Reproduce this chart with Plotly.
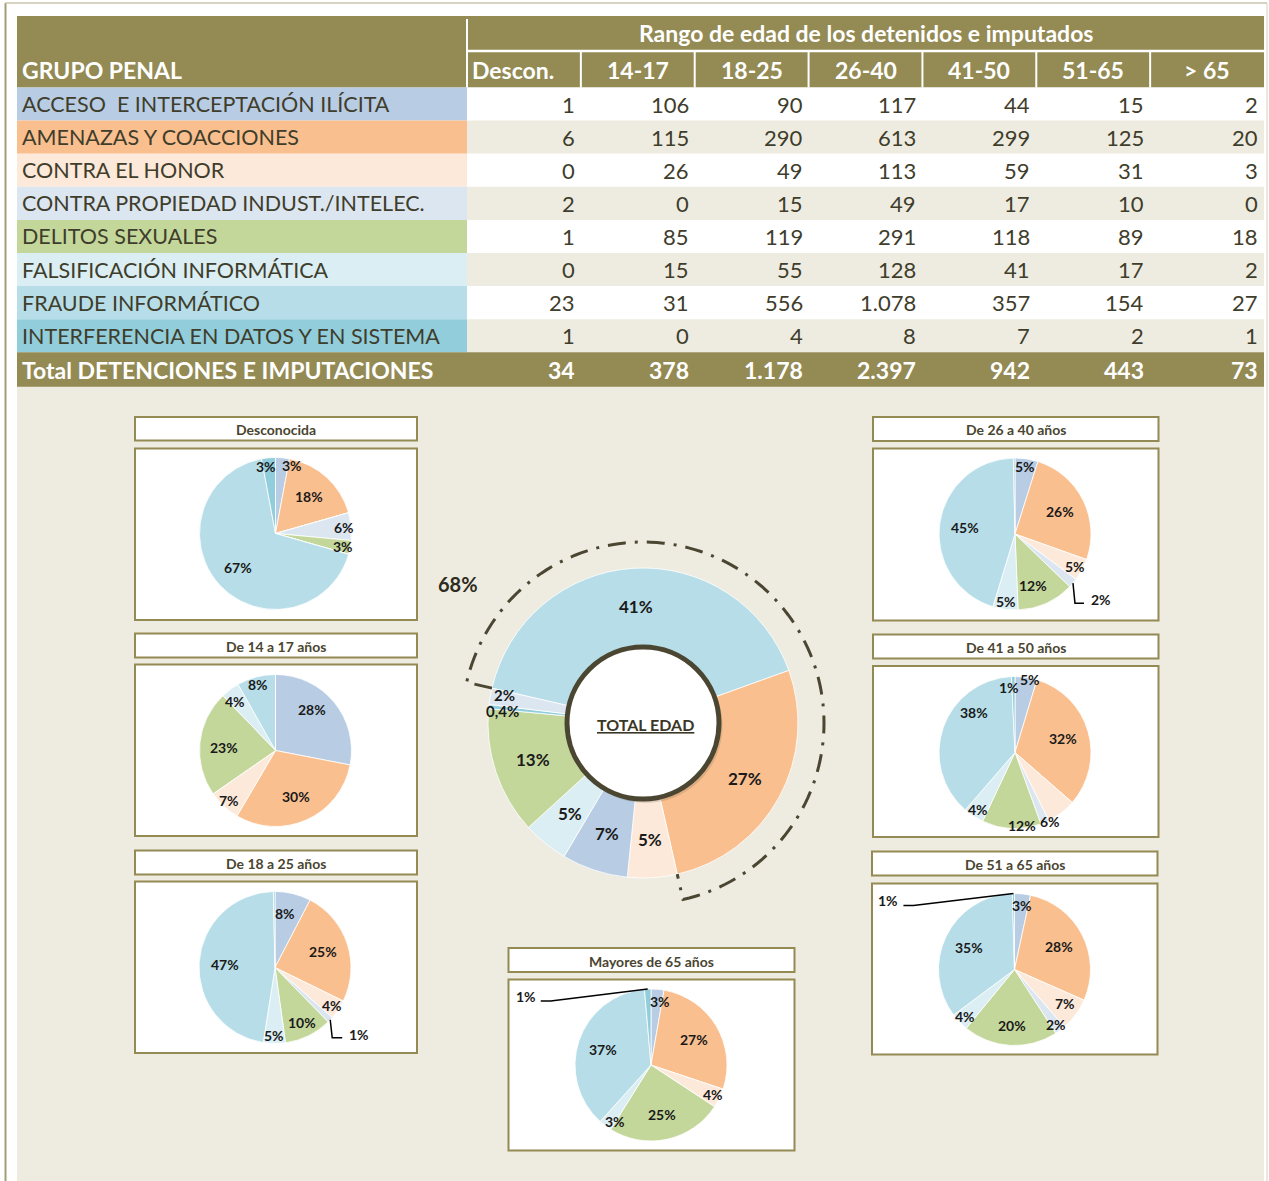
import math
import plotly.graph_objects as go

W, H = 1269, 1181

# ---------------- DATA ----------------
categorias = [
    "ACCESO  E INTERCEPTACIÓN ILÍCITA",
    "AMENAZAS Y COACCIONES",
    "CONTRA EL HONOR",
    "CONTRA PROPIEDAD INDUST./INTELEC.",
    "DELITOS SEXUALES",
    "FALSIFICACIÓN INFORMÁTICA",
    "FRAUDE INFORMÁTICO",
    "INTERFERENCIA EN DATOS Y EN SISTEMA",
]
colores = ["#B8CCE4", "#FABF8F", "#FDE9D9", "#DCE6F1",
           "#C4D79B", "#DAEEF3", "#B7DEE8", "#92CDDC"]
columnas = ["Descon.", "14-17", "18-25", "26-40", "41-50", "51-65", "> 65"]

descon = [1, 6, 0, 2, 1, 0, 23, 1]
edad_14_17 = [106, 115, 26, 0, 85, 15, 31, 0]
edad_18_25 = [90, 290, 49, 15, 119, 55, 556, 4]
edad_26_40 = [117, 613, 113, 49, 291, 128, 1078, 8]
edad_41_50 = [44, 299, 59, 17, 118, 41, 357, 7]
edad_51_65 = [15, 125, 31, 10, 89, 17, 154, 2]
edad_mas_65 = [2, 20, 3, 0, 18, 2, 27, 1]

# percentage labels as printed in each pie (category order)
etq_descon = ["3%", "18%", "", "6%", "3%", "", "67%", "3%"]
etq_14_17 = ["28%", "30%", "7%", "", "23%", "4%", "8%", ""]
etq_18_25 = ["8%", "25%", "4%", "1%", "10%", "5%", "47%", ""]
etq_26_40 = ["5%", "26%", "5%", "2%", "12%", "5%", "45%", ""]
etq_41_50 = ["5%", "32%", "6%", "", "12%", "4%", "38%", "1%"]
etq_51_65 = ["3%", "28%", "7%", "2%", "20%", "4%", "35%", "1%"]
etq_mas_65 = ["3%", "27%", "4%", "", "25%", "3%", "37%", "1%"]

titulos = ["Desconocida", "De 14 a 17 años", "De 18 a 25 años", "De 26 a 40 años",
           "De 41 a 50 años", "De 51 a 65 años", "Mayores de 65 años"]

# order of slices in the total donut (indices into categorias)
orden_total = [6, 1, 2, 0, 5, 4, 7, 3]

series = [descon, edad_14_17, edad_18_25, edad_26_40, edad_41_50, edad_51_65, edad_mas_65]
etiquetas = [etq_descon, etq_14_17, etq_18_25, etq_26_40, etq_41_50, etq_51_65, etq_mas_65]

# ---------------- STYLE ----------------
OLIVA = "#948A54"
BEIGE = "#EEECE1"
TXT = "#3F3D2B"
TIT = "#4A4530"
LBL = "#1A1A1A"
FONT = "Lato"


def X(x):
    return x / W


def Y(y):
    return 1 - y / H


def fmt(v):
    return f"{v:,}".replace(",", ".")


shapes = []
annotations = []


def rect(x0, y0, x1, y1, fill, line=None, lw=0, layer="below"):
    shapes.append(dict(type="rect", xref="paper", yref="paper",
                       x0=X(x0), x1=X(x1), y0=Y(y1), y1=Y(y0),
                       fillcolor=fill, layer=layer,
                       line=dict(width=lw, color=line if line else fill)))


def seg(x0, y0, x1, y1, color, w, layer="below"):
    shapes.append(dict(type="line", xref="paper", yref="paper",
                       x0=X(x0), x1=X(x1), y0=Y(y0), y1=Y(y1), layer=layer,
                       line=dict(color=color, width=w)))


def text(x, y, s, size, color, bold=False, xanchor="center", yanchor="middle"):
    annotations.append(dict(
        x=X(x), y=Y(y), xref="paper", yref="paper", showarrow=False,
        text=f"<b>{s}</b>" if bold else s, xanchor=xanchor, yanchor=yanchor,
        font=dict(family=FONT, size=size, color=color)))


# ---------------- FRAME / BACKGROUND ----------------
rect(17, 385, 1264, 1181, BEIGE)
seg(5.5, 3, 5.5, 1181, "#A39D75", 2)
seg(5, 3, 1267, 3, "#C9C5AC", 1.5)
seg(1267, 3, 1267, 1181, "#D3D0BE", 1)

# ---------------- TABLE ----------------
tx0, tlab, tx1 = 17, 467, 1264
col_w = (tx1 - tlab) / len(columnas)
hy0, hmid, hy1 = 16, 51, 87.5
row_h = 33.1
HDR = 23

rect(tx0, hy0, tx1, hy1, OLIVA)
seg(tlab, 19, tlab, hy1, "white", 2)
seg(tlab, hmid, tx1, hmid, "white", 2.5)
for j in range(1, len(columnas)):
    xb = tlab + j * col_w
    seg(xb, hmid + 1, xb, hy1, "white", 2)

text(20, 70, "GRUPO PENAL", HDR, "white", bold=True, xanchor="left")
text((tlab + tx1) / 2, 33, "Rango de edad de los detenidos e imputados", HDR, "white", bold=True)
for j, c in enumerate(columnas):
    if j == 0:
        text(tlab + 3, 70, c, HDR, "white", bold=True, xanchor="left")
    else:
        text(tlab + (j + 0.5) * col_w, 70, c, HDR, "white", bold=True)

for i, cat in enumerate(categorias):
    y0 = hy1 + i * row_h
    y1 = y0 + row_h
    rect(tx0, y0, tlab, y1, colores[i])
    rect(tlab, y0, tx1, y1, "white" if i % 2 == 0 else BEIGE)
    yc = (y0 + y1) / 2
    text(20, yc, cat, 21.5, TXT, xanchor="left")
    for j, serie in enumerate(series):
        text(tlab + (j + 1) * col_w - 4, yc, fmt(serie[i]), 22, TXT, xanchor="right")

ty0 = hy1 + len(categorias) * row_h
ty1 = ty0 + 34.5
rect(tx0, ty0, tx1, ty1, OLIVA)
tyc = (ty0 + ty1) / 2
text(20, tyc, "Total DETENCIONES E IMPUTACIONES", HDR, "white", bold=True, xanchor="left")
for j, serie in enumerate(series):
    text(tlab + (j + 1) * col_w - 4, tyc, fmt(sum(serie)), HDR, "white", bold=True, xanchor="right")

# ---------------- SMALL PIES ----------------
paneles = [
    dict(bx=(135, 417), tb=(417, 440.5), cb=(448.5, 620), c=(275.5, 533.5), r=76),
    dict(bx=(135, 417), tb=(633.5, 657.5), cb=(664.5, 836), c=(275.5, 750.5), r=76),
    dict(bx=(135, 417), tb=(850.5, 874.5), cb=(881.5, 1053), c=(275, 967.5), r=76),
    dict(bx=(873, 1158.5), tb=(417, 441), cb=(448.5, 620.5), c=(1015, 534), r=76),
    dict(bx=(873, 1158.5), tb=(634.5, 658.5), cb=(666, 837), c=(1015, 752.5), r=76),
    dict(bx=(872, 1157.5), tb=(851.5, 875.5), cb=(883.5, 1054.5), c=(1014.5, 969.5), r=76),
    dict(bx=(508.5, 794.5), tb=(948, 972), cb=(979.5, 1150.5), c=(651, 1065), r=76),
]

# leader-line label styles (panel, category): offsets from slice edge
leaders = {
    (2, 3): dict(pts=[(0, 0), (2, 18), (12, 18)], txt=(5, -3), anchor="left"),
    (3, 3): dict(pts=[(0, 0), (2, 20), (11, 20)], txt=(5, -4), anchor="left"),
    (5, 7): dict(pts=[(0, 0), (-100, 12), (-110, 12)], txt=(-3, -5), anchor="right"),
    (6, 7): dict(pts=[(0, 0), (-97, 12), (-107, 12)], txt=(-3, -5), anchor="right"),
}
# small label nudges (best-fit placement), in pixels
ajustes = {
    (0, 0): (10, 0), (0, 7): (-3, 1),
    (1, 0): (-2, -9), (1, 4): (-2, 2), (1, 5): (0, 6),
    (2, 0): (-6, 12),
    (3, 4): (-7, -4),
    (4, 0): (5, -5), (4, 2): (-7, 15), (4, 4): (10, 12), (4, 6): (6, -24), (4, 7): (-4, 3),
    (5, 0): (0, 4), (5, 2): (-5, -7), (5, 4): (0, 6),
    (6, 0): (3, 5), (6, 5): (5, 2),
}

traces = []
for k, p in enumerate(paneles):
    bx0, bx1 = p["bx"]
    rect(bx0, p["tb"][0], bx1, p["tb"][1], "white", OLIVA, 2)
    rect(bx0, p["cb"][0], bx1, p["cb"][1], "white", OLIVA, 2)
    text((bx0 + bx1) / 2, (p["tb"][0] + p["tb"][1]) / 2 + 1, titulos[k], 14, TIT, bold=True)

    cx, cy = p["c"]
    r = p["r"]
    vals = series[k]
    traces.append(go.Pie(
        values=vals, labels=categorias, sort=False, direction="clockwise", rotation=0,
        marker=dict(colors=colores, line=dict(color="white", width=0.8)),
        textinfo="none", hoverinfo="skip", showlegend=False,
        domain=dict(x=[X(cx - r), X(cx + r)], y=[Y(cy + r), Y(cy - r)])))

    tot = sum(vals)
    acc = 0.0
    for i, v in enumerate(vals):
        frac = v / tot
        a0 = acc * 360
        acc += frac
        a1 = acc * 360
        lab = etiquetas[k][i]
        if not lab:
            continue
        mid = math.radians((a0 + a1) / 2)
        if (k, i) in leaders:
            L = leaders[(k, i)]
            ax, ay = cx + r * math.sin(mid), cy - r * math.cos(mid)
            pts = [(ax + dx, ay + dy) for dx, dy in L["pts"]]
            path = "M " + " L ".join(f"{X(px):.5f},{Y(py):.5f}" for px, py in pts)
            shapes.append(dict(type="path", xref="paper", yref="paper", path=path,
                               layer="above", line=dict(color="black", width=1.5)))
            ex, ey = pts[-1]
            text(ex + L["txt"][0], ey + L["txt"][1], lab, 14, LBL, bold=True,
                 xanchor=L["anchor"])
        else:
            f = 0.66 if frac >= 0.15 else (0.8 if frac >= 0.09 else 0.9)
            dx, dy = ajustes.get((k, i), (0, 0))
            lx = cx + f * r * math.sin(mid) + dx
            ly = cy - f * r * math.cos(mid) + dy
            text(lx, ly, lab, 14, LBL, bold=True)

# ---------------- TOTAL DONUT ----------------
totales = [sum(s[i] for s in series) for i in range(len(categorias))]
gran_total = sum(totales)
dcx, dcy, dr = 643, 723, 155
hole = 0.5
rot_total = -77
ajustes_total = {3: (0, -4), 7: (0, 3)}

d_vals = [totales[i] for i in orden_total]
traces.append(go.Pie(
    values=d_vals, labels=[categorias[i] for i in orden_total], sort=False,
    direction="clockwise", rotation=rot_total, hole=hole,
    marker=dict(colors=[colores[i] for i in orden_total], line=dict(color="white", width=0.8)),
    textinfo="none", hoverinfo="skip", showlegend=False,
    domain=dict(x=[X(dcx - dr), X(dcx + dr)], y=[Y(dcy + dr), Y(dcy - dr)])))

acc = 0.0
for i, v in zip(orden_total, d_vals):
    frac = v / gran_total
    a0 = rot_total + acc * 360
    acc += frac
    a1 = rot_total + acc * 360
    pct = frac * 100
    lab = (f"{pct:.1f}%".replace(".", ",")) if pct < 1 else f"{round(pct)}%"
    mid = math.radians((a0 + a1) / 2)
    rr = dr * (hole + 1) / 2 if frac >= 0.03 else dr * 0.91
    dx, dy = ajustes_total.get(i, (0, 0))
    text(dcx + rr * math.sin(mid) + dx, dcy - rr * math.cos(mid) + dy, lab,
         17 if frac >= 0.03 else 15, LBL, bold=True)

# shadow + white centre
R_in = 76
shapes.append(dict(type="circle", xref="paper", yref="paper", layer="above",
                   x0=X(dcx - R_in + 1.5), x1=X(dcx + R_in + 3.5),
                   y0=Y(dcy + R_in + 4), y1=Y(dcy - R_in + 2),
                   fillcolor="rgba(90,85,60,0.18)", line=dict(width=0)))
shapes.append(dict(type="circle", xref="paper", yref="paper", layer="above",
                   x0=X(dcx - R_in), x1=X(dcx + R_in),
                   y0=Y(dcy + R_in), y1=Y(dcy - R_in),
                   fillcolor="white", line=dict(color="#4B4631", width=5)))
text(dcx + 2, dcy + 1, "<u>TOTAL EDAD</u>", 16, "#3A3726", bold=True)

# dash-dot arc around the two largest groups (Fraude + Amenazas)
frac_68 = (totales[6] + totales[1]) / gran_total
a_start = rot_total
a_end = rot_total + frac_68 * 360
r_arc = 181
pts = [(dcx + dr * math.sin(math.radians(a_start)), dcy - dr * math.cos(math.radians(a_start)))]
n = 120
for s in range(n + 1):
    a = math.radians(a_start + (a_end - a_start) * s / n)
    pts.append((dcx + r_arc * math.sin(a), dcy - r_arc * math.cos(a)))
pts.append((dcx + dr * math.sin(math.radians(a_end)), dcy - dr * math.cos(math.radians(a_end))))
path = "M " + " L ".join(f"{X(px):.5f},{Y(py):.5f}" for px, py in pts)
shapes.append(dict(type="path", xref="paper", yref="paper", path=path, layer="above",
                   line=dict(color="#4B4631", width=3, dash="18px,9px,3px,9px")))
text(458, 584, f"{round(frac_68 * 100)}%", 20, "#2E2C20", bold=True)

fig = go.Figure(traces)
fig.update_layout(
    width=W, height=H, margin=dict(l=0, r=0, t=0, b=0),
    paper_bgcolor="white", plot_bgcolor="white",
    font=dict(family=FONT),
    shapes=shapes, annotations=annotations,
)
fig.write_html("out.html", config={"displayModeBar": False},
               post_script="document.body.style.margin='0';document.body.style.overflow='hidden';")
